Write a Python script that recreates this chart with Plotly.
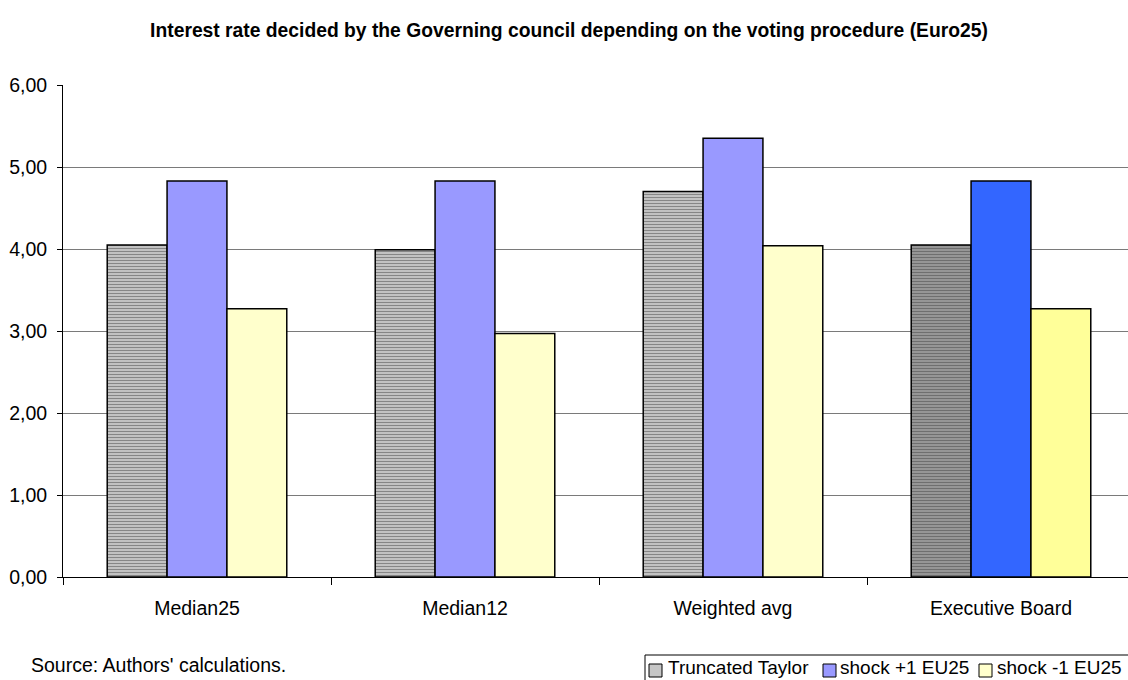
import plotly.graph_objects as go

# Data: interest rate by voting procedure (Euro25)
categories = ["Median25", "Median12", "Weighted avg", "Executive Board"]
series_names = ["Truncated Taylor", "shock +1 EU25", "shock -1 EU25"]
truncated_taylor = [4.05, 3.99, 4.70, 4.05]
shock_plus1 = [4.83, 4.83, 5.35, 4.83]
shock_minus1 = [3.27, 2.97, 4.04, 3.27]

W, H = 1128, 680
ML, MR, MT, MB = 63, 0, 85, 103
PW, PH = W - ML - MR, H - MT - MB

FONT = "Liberation Sans, Arial, sans-serif"
FS = 19.5

# colours per bar; the last group (Executive Board) is highlighted
tt_bg = ["#C8C8C8", "#C8C8C8", "#C8C8C8", "#9A9A9A"]
tt_fg = ["#B4B4B4", "#B4B4B4", "#B4B4B4", "#858585"]
p1_col = ["#9999FF", "#9999FF", "#9999FF", "#3366FF"]
m1_col = ["#FFFFCC", "#FFFFCC", "#FFFFCC", "#FFFF99"]
legend_cols = ["#C6C6C6", "#9999FF", "#FFFFCC"]

xpos = list(range(len(categories)))
outline = dict(color="black", width=1.5)

fig = go.Figure()
fig.add_trace(go.Bar(
    x=xpos, y=truncated_taylor, name=series_names[0],
    marker=dict(color=tt_bg, line=outline,
                pattern=dict(shape="-", size=3, solidity=0.4,
                             fgcolor=tt_fg, fillmode="overlay")),
))
fig.add_trace(go.Bar(x=xpos, y=shock_plus1, name=series_names[1],
                     marker=dict(color=p1_col, line=outline)))
fig.add_trace(go.Bar(x=xpos, y=shock_minus1, name=series_names[2],
                     marker=dict(color=m1_col, line=outline)))


def px_x(p):
    return (p - ML) / PW


def px_y(p):
    return (H - MB - p) / PH


shapes = []
annotations = []

# legend box (runs off the right and bottom edges)
shapes.append(dict(type="rect", xref="paper", yref="paper",
                   x0=px_x(645), x1=px_x(1150), y0=px_y(655), y1=px_y(700),
                   line=dict(color="black", width=1), fillcolor="white", layer="above"))
legend_sq = [649, 823, 979]
legend_txt = [666, 838, 995]
for name, col, sx, tx in zip(series_names, legend_cols, legend_sq, legend_txt):
    shapes.append(dict(type="rect", xref="paper", yref="paper",
                       x0=px_x(sx), x1=px_x(sx + 13), y0=px_y(677), y1=px_y(664),
                       line=dict(color="black", width=1), fillcolor=col, layer="above"))
    annotations.append(dict(text=name, xref="paper", yref="paper",
                            x=px_x(tx), y=px_y(667.5), xanchor="left", yanchor="middle",
                            showarrow=False, font=dict(family=FONT, size=19, color="black")))

annotations.append(dict(text="Source: Authors' calculations.", xref="paper", yref="paper",
                        x=px_x(29), y=px_y(665), xanchor="left", yanchor="middle",
                        showarrow=False, font=dict(family=FONT, size=FS, color="black")))

fig.update_layout(
    width=W, height=H,
    margin=dict(l=ML, r=MR, t=MT, b=MB, pad=0),
    paper_bgcolor="white", plot_bgcolor="white",
    separators=",.",
    barmode="group", bargap=0.33, bargroupgap=0,
    showlegend=False,
    title=dict(text="<b>Interest rate decided by the Governing council depending on the voting procedure (Euro25)</b>",
               x=569 / W, xanchor="center", y=1 - 30 / H, yanchor="middle",
               font=dict(family=FONT, size=19.3, color="black")),
    font=dict(family=FONT, size=FS, color="black"),
    shapes=shapes, annotations=annotations,
)

fig.update_xaxes(
    range=[-0.5, -0.5 + PW / 268],
    tickmode="array", tickvals=xpos, ticktext=categories,
    ticks="", ticklabelstandoff=14,
    minor=dict(tickmode="array", tickvals=[-0.5, 0.5, 1.5, 2.5, 3.5],
               ticks="outside", ticklen=7, tickcolor="black", tickwidth=1, showgrid=False),
    showline=True, linecolor="black", linewidth=1,
    showgrid=False, zeroline=False,
    tickfont=dict(family=FONT, size=FS, color="black"),
)
fig.update_yaxes(
    range=[0, 6], tickmode="linear", tick0=0, dtick=1, tickformat=".2f",
    ticks="outside", ticklen=5, tickcolor="black", ticklabelstandoff=6,
    showline=True, linecolor="black", linewidth=1,
    showgrid=True, gridcolor="#7A7A7A", gridwidth=1.3,
    zeroline=False,
    tickfont=dict(family=FONT, size=FS, color="black"),
)

fig.write_html("out.html")
